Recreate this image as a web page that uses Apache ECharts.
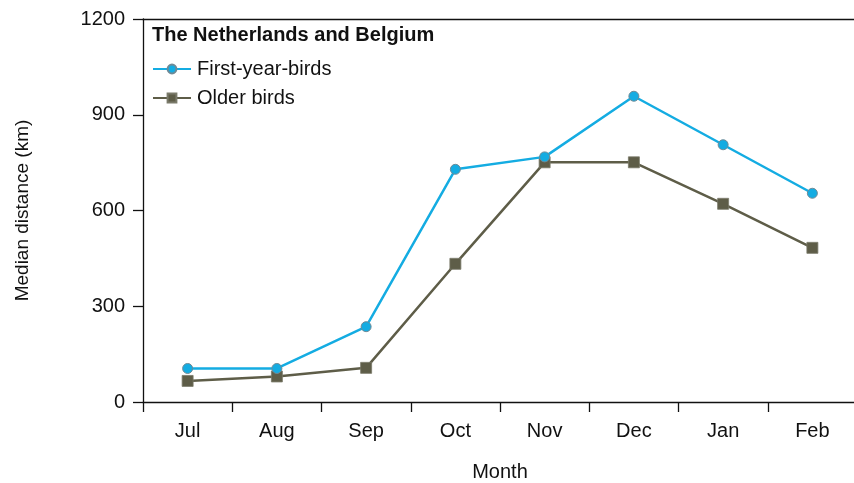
<!DOCTYPE html>
<html>
<head>
<meta charset="utf-8">
<script src="https://cdn.jsdelivr.net/npm/echarts@6/dist/echarts.min.js"></script>
<style>
  html, body { margin: 0; padding: 0; background: #ffffff; }
  #chart { width: 854px; height: 483px; }
</style>
</head>
<body>
<div id="chart"></div>
<script>
// Median migration distance per month, The Netherlands and Belgium
const months = ['Jul', 'Aug', 'Sep', 'Oct', 'Nov', 'Dec', 'Jan', 'Feb'];
const firstYearBirds = [105, 105, 236, 729, 768, 958, 806, 654];
const olderBirds = [66, 80, 107, 433, 751, 751, 621, 483];
const yTicks = [0, 300, 600, 900, 1200];

const FONT = 'Liberation Sans, Arial, sans-serif';
const BLUE = '#14ACE2';
const OLIVE = '#5E5D48';

const chart = echarts.init(document.getElementById('chart'), null, { renderer: 'canvas' });

chart.setOption({
  animation: false,
  backgroundColor: '#ffffff',
  textStyle: { fontFamily: FONT },
  grid: { left: 143, top: 19, width: 714, bottom: 81, containLabel: false, outerBoundsMode: 'none' },
  title: {
    text: 'The Netherlands and Belgium',
    left: 147,
    top: 20,
    textStyle: { fontFamily: FONT, fontSize: 20, fontWeight: 'bold', color: '#111111' }
  },
  legend: {
    orient: 'vertical',
    left: 147,
    top: 54,
    itemWidth: 38,
    itemHeight: 11,
    itemGap: 9,
    textStyle: { fontFamily: FONT, fontSize: 20, color: '#111111', padding: [0, 0, 0, 1] },
    data: ['First-year-birds', 'Older birds']
  },
  xAxis: [
    {
      type: 'category',
      data: months,
      boundaryGap: true,
      name: 'Month',
      nameLocation: 'middle',
      nameGap: 60,
      nameTextStyle: { fontFamily: FONT, fontSize: 20, color: '#111111' },
      axisLine: { show: true, lineStyle: { color: '#111111', width: 1.3 } },
      axisTick: { show: true, length: 10, alignWithLabel: false, lineStyle: { color: '#111111', width: 1.3 } },
      axisLabel: { fontFamily: FONT, fontSize: 20, color: '#111111', margin: 19 },
      splitLine: { show: false }
    },
    {
      // top frame line
      type: 'category',
      data: months,
      position: 'top',
      axisLine: { show: true, lineStyle: { color: '#111111', width: 1.3 } },
      axisTick: { show: false },
      axisLabel: { show: false },
      splitLine: { show: false }
    }
  ],
  yAxis: {
    type: 'value',
    min: yTicks[0],
    max: yTicks[yTicks.length - 1],
    interval: 300,
    name: 'Median distance (km)',
    nameLocation: 'middle',
    nameGap: 111,
    nameRotate: 90,
    nameTextStyle: { fontFamily: FONT, fontSize: 19, color: '#111111' },
    axisLine: { show: true, lineStyle: { color: '#111111', width: 1.3 } },
    axisTick: { show: true, length: 10, lineStyle: { color: '#111111', width: 1.3 } },
    axisLabel: { fontFamily: FONT, fontSize: 20, color: '#111111', margin: 18, formatter: v => String(v) },
    splitLine: { show: false }
  },
  series: [
    {
      name: 'First-year-birds',
      type: 'line',
      data: firstYearBirds,
      symbol: 'circle',
      symbolSize: 10,
      z: 3,
      lineStyle: { color: BLUE, width: 2.5 },
      itemStyle: { color: BLUE, borderColor: '#6f8a96', borderWidth: 1 }
    },
    {
      name: 'Older birds',
      type: 'line',
      data: olderBirds,
      symbol: 'rect',
      symbolSize: 11,
      z: 2,
      lineStyle: { color: OLIVE, width: 2.5 },
      itemStyle: { color: OLIVE, borderColor: '#7a7a6a', borderWidth: 0.8 }
    }
  ]
});
</script>
</body>
</html>
